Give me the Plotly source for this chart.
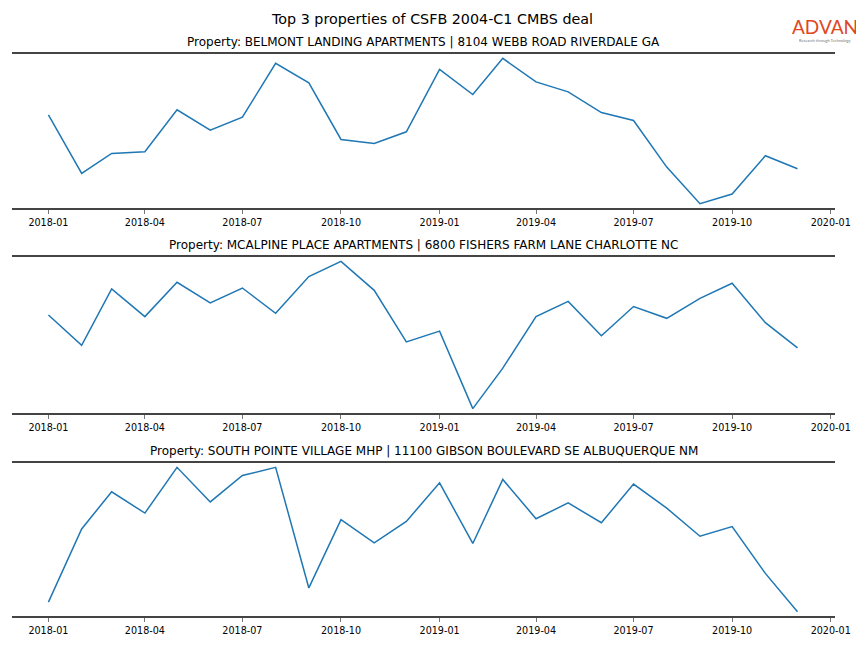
import pandas as pd
import plotly.graph_objects as go

months = pd.date_range("2018-01-01", "2019-12-01", freq="MS")

titles = [
    "Property: BELMONT LANDING APARTMENTS | 8104 WEBB ROAD RIVERDALE GA",
    "Property: MCALPINE PLACE APARTMENTS | 6800 FISHERS FARM LANE CHARLOTTE NC",
    "Property: SOUTH POINTE VILLAGE MHP | 11100 GIBSON BOULEVARD SE ALBUQUERQUE NM",
]

belmont = [1147, 560, 760, 777, 1197, 993, 1123, 1663, 1467, 900, 860, 977,
           1603, 1350, 1713, 1477, 1377, 1170, 1090, 623, 257, 353, 737, 607]
mcalpine = [1043, 743, 1300, 1027, 1367, 1163, 1310, 1060, 1423, 1573, 1287, 777,
            883, 117, 517, 1027, 1177, 837, 1127, 1010, 1207, 1357, 967, 717]
south_pointe = [167, 907, 1283, 1067, 1530, 1180, 1447, 1530, 310, 1000, 767, 983,
                1373, 760, 1407, 1010, 1170, 970, 1360, 1117, 833, 930, 457, 70]

series = [belmont, mcalpine, south_pointe]

tick_dates = pd.date_range("2018-01-01", "2020-01-01", freq="3MS")
tick_text = [d.strftime("%Y-%m") for d in tick_dates]

# page body has an 8px margin, so the figure is drawn 8px smaller/offset
OFF = 8
W, H = 864 - OFF, 648 - OFF
m_l, m_r, m_t, m_b = 12 - OFF, 29, 54 - OFF, 32
plot_h = H - m_t - m_b
# pixel spans of each panel (top, bottom) in screen coords
panels_px = [(54, 208), (257, 413), (463, 616)]

x0 = pd.Timestamp("2018-01-01") - pd.Timedelta(days=34)
x1 = pd.Timestamp("2020-01-01") + pd.Timedelta(days=4)

fig = go.Figure()
font_family = "DejaVu Sans"

for i, (vals, (ptop, pbot)) in enumerate(zip(series, panels_px)):
    n = "" if i == 0 else str(i + 1)
    d0 = (H - m_b - (pbot - OFF)) / plot_h
    d1 = (H - m_b - (ptop - OFF)) / plot_h
    fig.add_trace(go.Scatter(
        x=months, y=vals, mode="lines",
        line=dict(color="#1f77b4", width=1.5),
        xaxis="x" + n, yaxis="y" + n, showlegend=False,
        hoverinfo="x+y",
    ))
    lo, hi = min(vals), max(vals)
    pad = (hi - lo) * 0.03
    fig.update_layout(**{
        "xaxis" + n: dict(
            domain=[0, 1], anchor="y" + n, range=[x0, x1],
            tickvals=list(tick_dates), ticktext=tick_text,
            ticks="outside", ticklen=4, tickwidth=1, tickcolor="#777",
            tickfont=dict(size=9.6, color="#000", family=font_family),
            showline=True, linecolor="#444", linewidth=2, mirror=True,
            showgrid=False, zeroline=False,
        ),
        "yaxis" + n: dict(
            domain=[d0, d1], anchor="x" + n, range=[lo - pad, hi + pad],
            showticklabels=False, ticks="", showgrid=False, zeroline=False,
            showline=False,
        ),
    })
    fig.add_annotation(
        text=titles[i], xref="paper", yref="paper",
        x=0.5, y=d1, yshift=12, xanchor="center", yanchor="middle",
        showarrow=False, font=dict(size=12, color="#000", family=font_family),
    )

plot_w = W - m_l - m_r
fig.add_annotation(
    text="Top 3 properties of CSFB 2004-C1 CMBS deal",
    xref="paper", yref="paper", x=(432 - 12) / plot_w, y=1,
    yshift=35, xanchor="center", yanchor="middle", showarrow=False,
    font=dict(size=14.3, color="#000", family=font_family),
)
# logo
fig.add_annotation(
    text="ADVAN", xref="paper", yref="paper", x=1, xshift=-10, y=1, yshift=28,
    xanchor="center", yanchor="middle", showarrow=False,
    font=dict(size=19, color="#e0461f", family="Lato"),
)
fig.add_annotation(
    text="Research through Technology", xref="paper", yref="paper",
    x=1, xshift=-10, y=1, yshift=14, xanchor="center", yanchor="middle",
    showarrow=False, font=dict(size=4, color="#777", family="Lato"),
)

fig.update_layout(
    width=W, height=H,
    margin=dict(l=m_l, r=m_r, t=m_t, b=m_b, pad=0),
    paper_bgcolor="white", plot_bgcolor="white",
    font=dict(family=font_family),
)

fig.write_html("out.html")
